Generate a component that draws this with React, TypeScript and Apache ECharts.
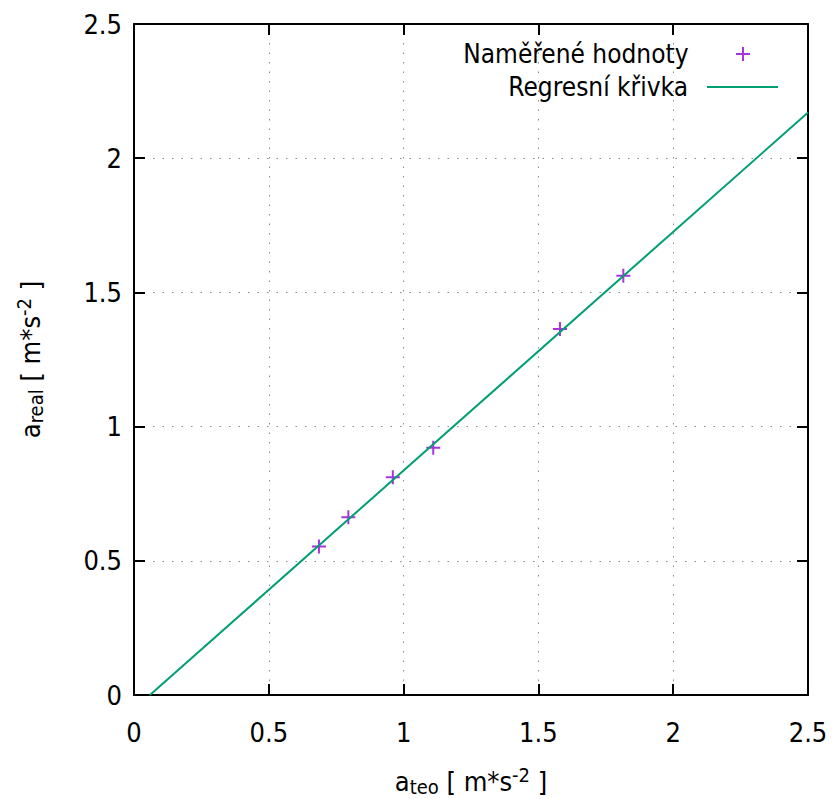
import React, { useEffect, useRef } from "react";
import * as echarts from "echarts";

const measuredX = [0.686, 0.795, 0.960, 1.110, 1.580, 1.815];
const measuredY = [0.553, 0.662, 0.811, 0.921, 1.364, 1.562];
const regressionX = [0.059, 2.5];
const regressionY = [0, 2.17];
const seriesNames = ["Naměřené hodnoty", "Regresní křivka"];
const axisMin = 0;
const axisMax = 2.5;
const axisStep = 0.5;

const FONT = "'DejaVu Sans Condensed', 'Liberation Sans', sans-serif";
const PLUS = "path://M6,0H8V6H14V8H8V14H6V8H0V6H6Z";

const richStyles = {
  a: { fontSize: 27, lineHeight: 32, fontFamily: FONT, color: "#000" },
  sub: { fontSize: 20, lineHeight: 10, verticalAlign: "bottom", fontFamily: FONT, color: "#000" },
  sup: { fontSize: 20, lineHeight: 16, verticalAlign: "top", fontFamily: FONT, color: "#000" },
};

export default function App() {
  const ref = useRef<HTMLDivElement>(null);
  useEffect(() => {
    if (!ref.current) return;
    const chart = echarts.init(ref.current, null, { renderer: "svg" });
    const axisLine = { show: true, onZero: false, lineStyle: { color: "#000", width: 2 } };
    const axisTick = { show: true, inside: true, length: 11, lineStyle: { color: "#000", width: 2 } };
    const splitLine = { show: true, lineStyle: { color: "#8a8a8a", width: 1, type: [1.5, 8] } };
    const labelStyle = { fontSize: 27, fontFamily: FONT, color: "#000" };
    const base = { type: "value", min: axisMin, max: axisMax, interval: axisStep };
    const legendText = { fontSize: 26, fontFamily: FONT, color: "#000", lineHeight: 28, padding: [0, 14, 0, 0] };
    chart.setOption({
      animation: false,
      backgroundColor: "#fff",
      grid: { left: 134, right: 26, top: 24, bottom: 104, containLabel: false, outerBoundsMode: "none" },
      xAxis: [
        {
          ...base,
          position: "bottom",
          axisLine,
          axisTick,
          splitLine,
          axisLabel: { ...labelStyle, margin: 24 },
          name: "{a|a}{sub|teo}{a| [ m*s}{sup|-2}{a| ]}",
          nameLocation: "middle",
          nameGap: 70,
          nameTextStyle: { rich: richStyles },
        },
        {
          ...base,
          position: "top",
          axisLine,
          axisTick,
          splitLine: { show: false },
          axisLabel: { show: false },
        },
      ],
      yAxis: [
        {
          ...base,
          position: "left",
          axisLine,
          axisTick,
          splitLine,
          axisLabel: { ...labelStyle, margin: 12 },
          name: "{a|a}{sub|real}{a| [ m*s}{sup|-2}{a| ]}",
          nameLocation: "middle",
          nameRotate: 90,
          nameGap: 88,
          nameTextStyle: { rich: richStyles },
        },
        {
          ...base,
          position: "right",
          axisLine,
          axisTick,
          splitLine: { show: false },
          axisLabel: { show: false },
        },
      ],
      legend: [
        {
          data: [seriesNames[0]],
          right: 84,
          top: 40,
          padding: 0,
          align: "right",
          itemWidth: 71,
          itemHeight: 14,
          symbolKeepAspect: true,
          textStyle: legendText,
        },
        {
          data: [{ name: seriesNames[1], icon: "rect" }],
          right: 56,
          top: 73,
          padding: 0,
          align: "right",
          itemWidth: 71,
          itemHeight: 2,
          textStyle: legendText,
        },
      ],
      series: [
        {
          name: seriesNames[0],
          type: "scatter",
          symbol: PLUS,
          symbolSize: 14,
          itemStyle: { color: "#9400d3" },
          data: measuredX.map((x, i) => [x, measuredY[i]]),
          z: 2,
        },
        {
          name: seriesNames[1],
          type: "line",
          symbol: "none",
          lineStyle: { color: "#009e73", width: 2 },
          itemStyle: { color: "#009e73" },
          data: regressionX.map((x, i) => [x, regressionY[i]]),
          z: 3,
        },
      ],
    });
    return () => chart.dispose();
  }, []);
  return <div ref={ref} style={{ width: 834, height: 799, position: "absolute", left: 0, top: 0 }} />;
}
